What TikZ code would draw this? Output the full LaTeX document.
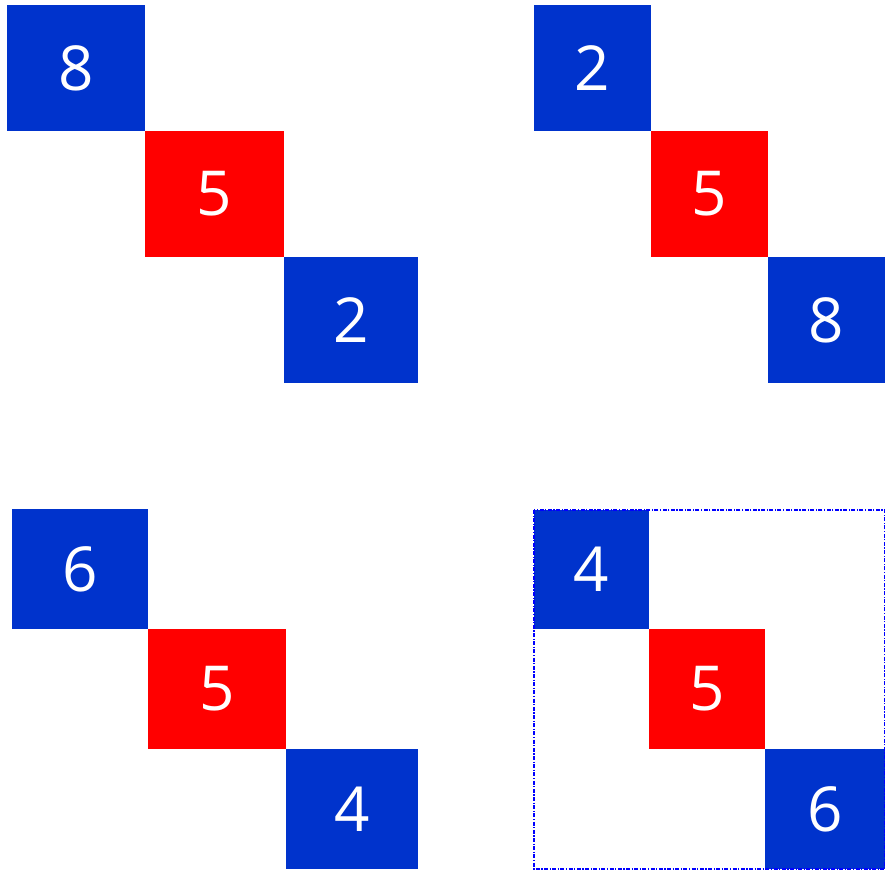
\documentclass[tikz,border=0pt]{standalone}
\usepackage{fontspec}
\setmainfont{Open Sans}
\usepackage{tikz}
\usetikzlibrary{positioning}
\definecolor{cblue}{HTML}{0033CC}
\definecolor{cred}{HTML}{FF0000}

\tikzset{
    cell/.style 2 args={minimum width=#1pt, minimum height=#2pt, inner sep=0pt, outer sep=0pt,
        text=white, font=\fontsize{62}{62}\selectfont},
    bl/.style={fill=cblue},
    rd/.style={fill=cred}
}

\begin{document}
\begin{tikzpicture}[x=1pt, y=-1pt, node distance=0pt]
    \useasboundingbox (0,0) rectangle (885,870);

    % top left
    \node[cell={138}{126}, bl, anchor=north west] (a8) at (7,5) {8};
    \node[cell={139}{126}, rd, below right=0pt and 0pt of a8] (a5) {5};
    \node[cell={134}{126}, bl, below right=0pt and 0pt of a5] (a2) {2};

    % top right
    \node[cell={117}{126}, bl, anchor=north west] (b2) at (534,5) {2};
    \node[cell={117}{126}, rd, below right=0pt and 0pt of b2] (b5) {5};
    \node[cell={117}{126}, bl, below right=0pt and 0pt of b5] (b8) {8};

    % bottom left
    \node[cell={136}{120}, bl, anchor=north west] (c6) at (12,509) {6};
    \node[cell={138}{120}, rd, below right=0pt and 0pt of c6] (c5) {5};
    \node[cell={132}{120}, bl, below right=0pt and 0pt of c5] (c4) {4};

    % bottom right
    \node[cell={115}{119}, bl, anchor=north west] (d4) at (534,510) {4};
    \node[cell={116}{120}, rd, below right=0pt and 0pt of d4] (d5) {5};
    \node[cell={120}{120}, bl, below right=0pt and 0pt of d5] (d6) {6};
    \draw[blue, line width=2pt, dash pattern=on 4pt off 1.5pt on 1.2pt off 1.5pt]
        (d4.north west) rectangle (d6.south east);
\end{tikzpicture}
\end{document}
